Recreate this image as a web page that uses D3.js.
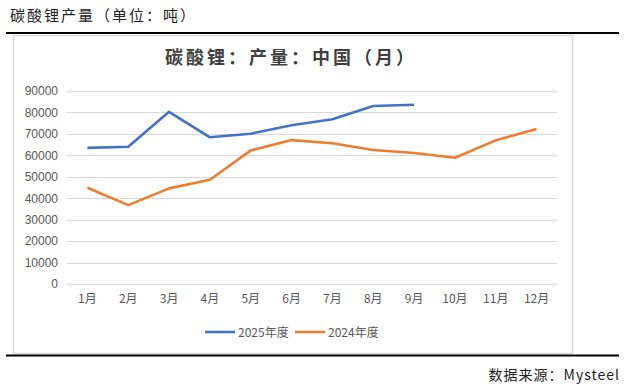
<!DOCTYPE html>
<html>
<head>
<meta charset="utf-8">
<script src="https://cdn.jsdelivr.net/npm/d3@7"></script>
<style>
  body { margin: 0; background: #fff; }
  text { font-family: "Noto Sans CJK SC", "Liberation Sans", sans-serif; }
</style>
</head>
<body>
<div id="chart"></div>
<script>
// data
const months = ["1月", "2月", "3月", "4月", "5月", "6月", "7月", "8月", "9月", "10月", "11月", "12月"];
const seriesNames = ["2025年度", "2024年度"];
const values2025 = [63500, 64000, 80300, 68400, 70100, 74000, 76800, 83000, 83600];
const values2024 = [44900, 36800, 44600, 48600, 62300, 67100, 65600, 62500, 61100, 58900, 67000, 72300];
const yTicks = [0, 10000, 20000, 30000, 40000, 50000, 60000, 70000, 80000, 90000];
const colors = ["#4472C4", "#ED7D31"];

const W = 629, H = 389;
const svg = d3.select("#chart").append("svg")
    .attr("width", W)
    .attr("height", H);

// page header + rules
svg.append("text")
    .attr("x", 10).attr("y", 21)
    .style("font-size", "15px")
    .style("letter-spacing", "2px")
    .attr("fill", "#222")
    .text("碳酸锂产量（单位：吨）");

svg.append("line")
    .attr("x1", 6).attr("x2", 619).attr("y1", 33).attr("y2", 33)
    .attr("stroke", "#000").attr("stroke-width", 2);

// chart box
svg.append("rect")
    .attr("x", 13.5).attr("y", 35.5)
    .attr("width", 559).attr("height", 318)
    .attr("fill", "#fff")
    .attr("stroke", "#d9d9d9").attr("stroke-width", 1.5);

svg.append("line")
    .attr("x1", 6).attr("x2", 619).attr("y1", 355.5).attr("y2", 355.5)
    .attr("stroke", "#000").attr("stroke-width", 2);

svg.append("text")
    .attr("x", 620).attr("y", 380)
    .attr("text-anchor", "end")
    .style("font-size", "14px")
    .style("letter-spacing", "1px")
    .attr("fill", "#222")
    .text("数据来源：Mysteel");

// chart title
svg.append("text")
    .attr("x", 291).attr("y", 64)
    .attr("text-anchor", "middle")
    .style("font-size", "18px")
    .style("font-weight", "bold")
    .style("letter-spacing", "3px")
    .attr("fill", "#404040")
    .text("碳酸锂：产量：中国（月）");

// scales
const plot = { left: 67, right: 557, top: 91, bottom: 284 };
const x = d3.scaleBand().domain(months).range([plot.left, plot.right]);
const y = d3.scaleLinear().domain([0, 90000]).range([plot.bottom, plot.top]);

// grid
svg.append("g")
    .selectAll("line")
    .data(yTicks)
    .join("line")
    .attr("x1", plot.left).attr("x2", plot.right)
    .attr("y1", d => Math.round(y(d)) + 0.5)
    .attr("y2", d => Math.round(y(d)) + 0.5)
    .attr("stroke", "#d9d9d9").attr("stroke-width", 1);

// y axis labels
const yAxis = svg.append("g")
    .attr("transform", `translate(${plot.left},0)`)
    .call(d3.axisLeft(y).tickValues(yTicks).tickSize(0).tickPadding(9).tickFormat(d3.format("d")));
yAxis.select(".domain").remove();
yAxis.selectAll("text")
    .style("font-family", "'Liberation Sans', sans-serif")
    .style("font-size", "12px")
    .attr("fill", "#595959");

// x axis labels
const xAxis = svg.append("g")
    .attr("transform", `translate(0,${plot.bottom})`)
    .call(d3.axisBottom(x).tickSize(0).tickPadding(10));
xAxis.select(".domain").remove();
xAxis.selectAll("text")
    .style("font-size", "12px")
    .attr("fill", "#595959");

// lines
const line = d3.line()
    .x((d, i) => x(months[i]) + x.bandwidth() / 2)
    .y(d => y(d));

[values2025, values2024].forEach((vals, k) => {
    svg.append("path")
        .datum(vals)
        .attr("fill", "none")
        .attr("stroke", colors[k])
        .attr("stroke-width", 2.6)
        .attr("stroke-linejoin", "round")
        .attr("d", line);
});

// legend
const legendX = [205, 295];
const legend = svg.selectAll(".legend")
    .data(seriesNames)
    .join("g")
    .attr("class", "legend")
    .attr("transform", (d, i) => `translate(${legendX[i]},332)`);

legend.append("line")
    .attr("x1", 0).attr("x2", 30)
    .attr("stroke", (d, i) => colors[i])
    .attr("stroke-width", 2.6);

legend.append("text")
    .attr("x", 33).attr("y", 4.5)
    .style("font-size", "12px")
    .attr("fill", "#595959")
    .text(d => d);
</script>
</body>
</html>
